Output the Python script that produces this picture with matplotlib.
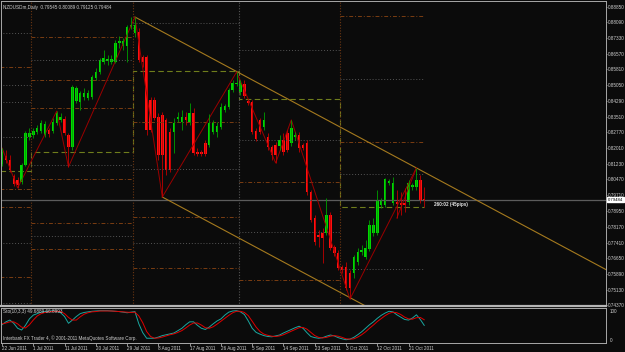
import numpy as np
import matplotlib
matplotlib.use('Agg')
import matplotlib.pyplot as plt

plt.rcParams['font.family'] = ['Liberation Sans', 'DejaVu Sans']
FS = 3.3

# ---- data (NZDUSDm daily, 22 Jun - 25 Oct 2011, Sunday bars included)
opens = [0.8122, 0.8161, 0.8142, 0.8064, 0.8045, 0.8035, 0.8117, 0.8253, 0.8263, 0.8277,
         0.8282, 0.8263, 0.8287, 0.8282, 0.8321, 0.8336, 0.8340, 0.8263, 0.8205, 0.8428,
         0.8423, 0.8447, 0.8442, 0.8447, 0.8539, 0.8568, 0.8617, 0.8622, 0.8617, 0.8617,
         0.8709, 0.8694, 0.8694, 0.8787, 0.8757, 0.8762, 0.8641, 0.8641, 0.8433, 0.8433,
         0.8350, 0.8360, 0.8336, 0.8277, 0.8277, 0.8340, 0.8326, 0.8350, 0.8326, 0.8369,
         0.8180, 0.8180, 0.8224, 0.8214, 0.8277, 0.8277, 0.8302, 0.8384, 0.8399, 0.8481,
         0.8510, 0.8471, 0.8510, 0.8428, 0.8423, 0.8282, 0.8336, 0.8302, 0.8253, 0.8205,
         0.8214, 0.8209, 0.8239, 0.8272, 0.8224, 0.8253, 0.8263, 0.8214, 0.8224, 0.7986,
         0.7860, 0.7778, 0.7787, 0.7787, 0.7875, 0.7720, 0.7690, 0.7622, 0.7622, 0.7593,
         0.7593, 0.7647, 0.7695, 0.7671, 0.7710, 0.7787, 0.7787, 0.7923, 0.7923, 0.8030,
         0.7933, 0.7938, 0.7933, 0.7933, 0.7938, 0.8011, 0.8011, 0.8045, 0.79545]
highs = [0.8200, 0.8190, 0.8166, 0.8074, 0.8059, 0.8127, 0.8282, 0.8297, 0.8297, 0.8311,
         0.8336, 0.8331, 0.8297, 0.8345, 0.8379, 0.8369, 0.8355, 0.8272, 0.8505, 0.8500,
         0.8476, 0.8491, 0.8481, 0.8554, 0.8588, 0.8636, 0.8675, 0.8651, 0.8651, 0.8723,
         0.8743, 0.8733, 0.8796, 0.8835, 0.8835, 0.8782, 0.8651, 0.8651, 0.8447, 0.8447,
         0.8369, 0.8374, 0.8345, 0.8297, 0.8345, 0.8374, 0.8384, 0.8374, 0.8418, 0.8394,
         0.8200, 0.8190, 0.8239, 0.8365, 0.8336, 0.8326, 0.8418, 0.8413, 0.8491, 0.8530,
         0.8568, 0.8530, 0.8530, 0.8437, 0.8433, 0.8297, 0.8345, 0.8374, 0.8272, 0.8214,
         0.8229, 0.8263, 0.8272, 0.8287, 0.8336, 0.8277, 0.8277, 0.8224, 0.8239, 0.7996,
         0.7875, 0.7802, 0.7812, 0.7957, 0.7889, 0.7729, 0.7705, 0.7632, 0.7647, 0.7608,
         0.7681, 0.7715, 0.7729, 0.7754, 0.7851, 0.7860, 0.7996, 0.7957, 0.8054, 0.8049,
         0.8059, 0.7996, 0.7986, 0.8006, 0.8045, 0.8030, 0.8103, 0.8069, 0.80089]
lows = [0.8112, 0.8127, 0.8083, 0.8015, 0.8006, 0.8025, 0.8112, 0.8239, 0.8248, 0.8268,
        0.8272, 0.8253, 0.8253, 0.8272, 0.8311, 0.8326, 0.8263, 0.8108, 0.8190, 0.8418,
        0.8384, 0.8433, 0.8433, 0.8437, 0.8530, 0.8559, 0.8607, 0.8602, 0.8607, 0.8612,
        0.8685, 0.8675, 0.8617, 0.8777, 0.8738, 0.8617, 0.8593, 0.8263, 0.8277, 0.8336,
        0.8142, 0.7962, 0.8069, 0.8083, 0.8175, 0.8326, 0.8287, 0.8311, 0.8311, 0.8166,
        0.8161, 0.8161, 0.8161, 0.8205, 0.8268, 0.8253, 0.8292, 0.8374, 0.8389, 0.8471,
        0.8500, 0.8457, 0.8442, 0.8408, 0.8268, 0.8234, 0.8268, 0.8287, 0.8190, 0.8142,
        0.8127, 0.8190, 0.8166, 0.8180, 0.8209, 0.8239, 0.8180, 0.8190, 0.7972, 0.7841,
        0.7729, 0.7720, 0.7642, 0.7778, 0.7705, 0.7676, 0.7608, 0.7593, 0.7511, 0.7467,
        0.7569, 0.7632, 0.7681, 0.7661, 0.7700, 0.7773, 0.7778, 0.7909, 0.7914, 0.8020,
        0.7923, 0.7860, 0.7875, 0.7889, 0.7923, 0.7996, 0.7996, 0.7933, 0.79125]
closes = [0.8180, 0.8142, 0.8093, 0.8025, 0.8020, 0.8117, 0.8272, 0.8272, 0.8282, 0.8297,
          0.8321, 0.8316, 0.8268, 0.8326, 0.8369, 0.8350, 0.8272, 0.8205, 0.8496, 0.8491,
          0.8466, 0.8466, 0.8466, 0.8544, 0.8568, 0.8627, 0.8636, 0.8631, 0.8631, 0.8709,
          0.8719, 0.8719, 0.8787, 0.8796, 0.8796, 0.8627, 0.8617, 0.8287, 0.8287, 0.8345,
          0.8166, 0.8166, 0.8093, 0.8093, 0.8321, 0.8350, 0.8350, 0.8336, 0.8369, 0.8175,
          0.8171, 0.8171, 0.8171, 0.8321, 0.8321, 0.8306, 0.8399, 0.8403, 0.8481, 0.8515,
          0.8515, 0.8515, 0.8452, 0.8418, 0.8277, 0.8243, 0.8277, 0.8336, 0.8205, 0.8166,
          0.8166, 0.8239, 0.8180, 0.8190, 0.8297, 0.8263, 0.8200, 0.8200, 0.7986, 0.7851,
          0.7744, 0.7768, 0.7763, 0.7875, 0.7715, 0.7690, 0.7618, 0.7608, 0.7521, 0.7521,
          0.7671, 0.7695, 0.7705, 0.7715, 0.7826, 0.7826, 0.7943, 0.7943, 0.8049, 0.8040,
          0.8030, 0.7928, 0.7923, 0.7923, 0.8030, 0.8020, 0.8045, 0.7948, 0.79484]

# stochastic (10,3,3): main (teal) and signal (red)
sto_main = [52, 62, 68, 57, 40, 34, 50, 72, 85, 90, 95, 97, 98, 100, 98, 93, 80, 57, 68, 80,
            90, 94, 96, 98, 99, 100, 100, 100, 99, 98, 97, 95, 93, 95, 97, 55, 25, 6, 6, 6,
            10, 15, 18, 21, 24, 32, 40, 52, 62, 62, 50, 40, 36, 44, 55, 65, 72, 85, 95, 99,
            100, 96, 87, 65, 40, 26, 20, 15, 12, 11, 14, 17, 24, 30, 36, 42, 47, 40, 25, 12,
            8, 6, 8, 13, 17, 14, 8, 4, 1, 3, 9, 18, 28, 40, 52, 62, 74, 84, 92, 98,
            96, 86, 78, 70, 68, 75, 86, 70, 50]
sto_signal = [55, 58, 62, 62, 55, 44, 41, 52, 68, 82, 90, 94, 96, 98, 98, 97, 90, 77, 68, 68,
              79, 88, 93, 96, 97, 99, 99, 99, 99, 98, 97, 96, 95, 94, 95, 82, 59, 29, 12, 6,
              7, 10, 14, 18, 21, 26, 32, 41, 51, 58, 58, 51, 42, 40, 45, 54, 64, 74, 84, 93,
              98, 98, 94, 83, 64, 44, 29, 20, 16, 13, 12, 14, 18, 24, 30, 36, 42, 43, 37, 26,
              15, 9, 7, 9, 13, 15, 13, 9, 4, 3, 4, 10, 18, 28, 40, 51, 63, 73, 83, 91,
              95, 93, 87, 78, 72, 71, 76, 77, 69]

date_labels = ['22 Jun 2011', '1 Jul 2011', '11 Jul 2011', '20 Jul 2011', '29 Jul 2011',
               '8 Aug 2011', '17 Aug 2011', '26 Aug 2011', '5 Sep 2011', '14 Sep 2011',
               '23 Sep 2011', '3 Oct 2011', '12 Oct 2011', '21 Oct 2011']
price_ticks = [0.88850, 0.88090, 0.87330, 0.86570, 0.85810, 0.85050, 0.84290, 0.83510,
               0.82770, 0.82010, 0.81230, 0.80470, 0.79710, 0.78950, 0.78170, 0.77410,
               0.76650, 0.75890, 0.75130, 0.74370]
last_price = 0.79484

# zigzag turning points (bar index, price)
zz_bar = [0, 4, 14, 17, 34, 41, 60, 70, 74, 89, 106]
zz_price = [0.8200, 0.8006, 0.8379, 0.8108, 0.8835, 0.7962, 0.8568, 0.8127, 0.8336, 0.7467, 0.8103]
zz2_bar = [101, 106]
zz2_price = [0.7860, 0.8103]

# channel: upper line through two highs, lower parallel from the Aug low
chan_upper = [(34, 0.8835), (106, 0.8103)]
chan_low_start = (41, 0.7962)

# monthly levels (Jun, Jul, Aug, Sep, Oct)
month_edges = [-0.5, 7.5, 33.5, 60.5, 86.5, 108]
pivot_lv = [0.8088, 0.8180, 0.8575, 0.8437, 0.7914]
grey_lv = [[0.8757, 0.8505, 0.8423, 0.8253, 0.7739, 0.7448],
           [0.8627, 0.8117, 0.7773],
           [0.8806, 0.8098, 0.7739],
           [0.8675, 0.8239, 0.7792],
           [0.8534, 0.8074, 0.7613]]
brown_lv = [[0.8593, 0.8001, 0.7914, 0.7574],
            [0.8738, 0.8530, 0.8394, 0.8049, 0.7836, 0.7710],
            [0.8326, 0.7865, 0.7618],
            [0.8035, 0.7560],
            [0.8840, 0.8229]]

# ---- figure
W, H = 625, 352
BG = '#0b0b0b'
FRAME = '#a8a8a8'
TXT = '#cfcfcf'
fig = plt.figure(figsize=(W / 100, H / 100), dpi=100, facecolor=BG)


def box(x0, y0, x1, y1):
    return [x0 / W, 1 - y1 / H, (x1 - x0) / W, (y1 - y0) / H]


ax = fig.add_axes(box(1, 1, 606, 306))
ax2 = fig.add_axes(box(1, 308, 606, 343))
for a in (ax, ax2):
    a.set_facecolor(BG)
    for s in a.spines.values():
        s.set_color(FRAME)
        s.set_linewidth(0.7)
ax.spines['bottom'].set_linewidth(1.6)
ax.spines['bottom'].set_color('#b5b5b5')

x_lo, x_hi = -0.26, 154.5
ax.set_xlim(x_lo, x_hi)
ax2.set_xlim(x_lo, x_hi)
ax.set_ylim(0.74334, 0.891265)
ax2.set_ylim(-10.2, 109.2)

o = np.array(opens); h = np.array(highs); l = np.array(lows); c = np.array(closes)
idx = np.arange(len(o))
up = c >= o

# monthly separators and levels
sep_col = ['#6a3612', '#6a3612', '#555555', '#6a3612']
for e, col in zip(month_edges[1:-1], sep_col):
    ax.axvline(e, color=col, lw=0.8, ls=(0, (1, 1.5)))
for m in range(5):
    ax.hlines(grey_lv[m], month_edges[m], month_edges[m + 1], color='#555555', lw=0.7,
              ls=(0, (1, 2)))
    ax.hlines(brown_lv[m], month_edges[m], month_edges[m + 1], color='#7a3d12', lw=0.7,
              ls=(0, (4, 2, 1, 2)))
ax.stairs(pivot_lv, month_edges, baseline=None, color='#6f7d1c', lw=0.8, ls=(0, (5, 3)))

# price line
ax.axhline(last_price, color='#5c5c5c', lw=0.9)

# channel
slope = (chan_upper[1][1] - chan_upper[0][1]) / (chan_upper[1][0] - chan_upper[0][0])
xe = np.array([chan_upper[0][0], x_hi])
ax.plot(xe, chan_upper[0][1] + slope * (xe - chan_upper[0][0]), color='#a57a1e', lw=0.8)
xe2 = np.array([chan_low_start[0], x_hi])
ax.plot(xe2, chan_low_start[1] + slope * (xe2 - chan_low_start[0]), color='#a57a1e', lw=0.8)

# zigzag
ax.plot(zz_bar, zz_price, color='#9a0000', lw=0.7)
ax.plot(zz2_bar, zz2_price, color='#9a0000', lw=0.7)

# candles
ax.vlines(idx[up], l[up], h[up], color='#00a000', lw=0.6)
ax.vlines(idx[~up], l[~up], h[~up], color='#c00000', lw=0.6)
body = np.maximum(np.abs(c - o), 0.0003)
ax.bar(idx, body, bottom=np.minimum(o, c), width=0.62,
       color=np.where(up, '#00d800', '#ff1010'), linewidth=0)

# right price axis
ax.yaxis.tick_right()
ax.set_yticks(price_ticks)
ax.set_yticklabels(['%.5f' % p for p in price_ticks])
ax.tick_params(axis='y', colors=FRAME, labelcolor=TXT, labelsize=FS, length=1.0, width=0.6,
               pad=0.3)
ax.set_xticks([])
ax.annotate('%.5f' % last_price, xy=(1.0, last_price), xycoords=('axes fraction', 'data'),
            xytext=(1.4, 0), textcoords='offset points', va='center', ha='left',
            fontsize=3.1, color='black',
            bbox=dict(boxstyle='square,pad=0.15', fc='white', ec='white'))
ax.text(433 / 605 * (x_hi - x_lo) + x_lo, 0.7928, '260:02 (45pips)', color='#e8e8e8',
        fontsize=FS, fontweight='bold', va='center', ha='left')

# stochastic panel
ax2.plot(idx, sto_main, color='#1aa7a0', lw=0.7)
ax2.plot(idx, sto_signal, color='#e00000', lw=0.7)
ax2.yaxis.tick_right()
ax2.set_yticks([0, 100])
ax2.set_yticklabels(['0', '100'])
ax2.tick_params(axis='y', colors=FRAME, labelcolor=TXT, labelsize=FS, length=0, pad=2.5)
ax2.set_xticks(np.arange(len(date_labels)) * 8)
ax2.set_xticklabels(date_labels, ha='left')
ax2.tick_params(axis='x', colors=FRAME, labelcolor=TXT, labelsize=FS, length=2.2, width=0.6,
                pad=0.3)

fig.text(3 / W, 1 - 7 / H, 'NZDUSDm,Daily  0.79545 0.80089 0.79125 0.79484', color=TXT,
         fontsize=FS, va='center', ha='left')
fig.text(3 / W, 1 - 312 / H, 'Sto(10,3,3) 49.6889 66.8993', color=TXT,
         fontsize=FS, va='center', ha='left')
fig.text(3 / W, 1 - 338.5 / H, 'Interbank FX Trader 4, \u00a9 2001-2011 MetaQuotes Software Corp.',
         color=TXT, fontsize=FS, va='center', ha='left')

fig.savefig('out.png', dpi=100, facecolor=BG)
